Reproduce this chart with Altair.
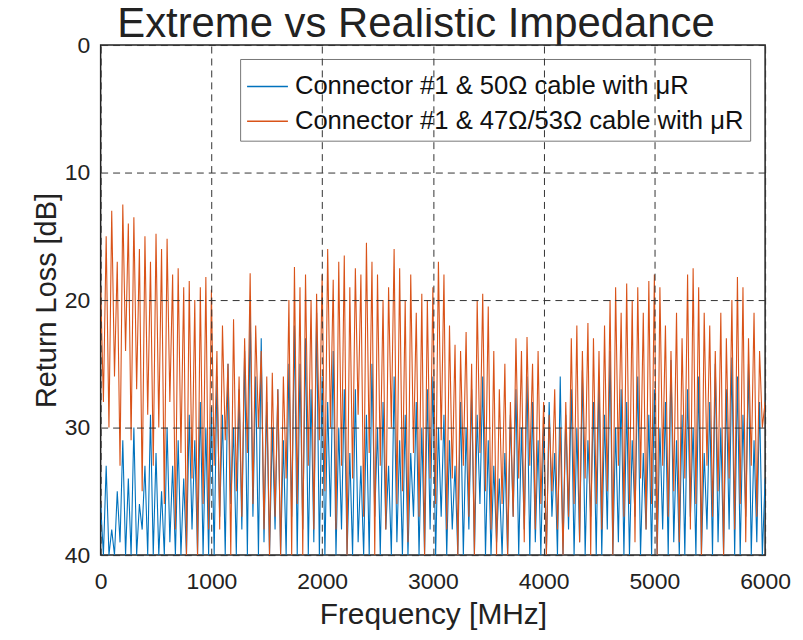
import altair as alt
import pandas as pd

series_names = ["Connector #1 & 50Ω cable with μR", "Connector #1 & 47Ω/53Ω cable with μR"]
series_colors = ["#0072BD", "#D95319"]

# frequency grid of the traces, MHz (0 ... 6000 every 25 MHz)
freq_mhz = list(range(0, 6001, 25))

# return loss [dB], 10 values per 250 MHz
orange_rl = [
    19, 28, 15, 30, 13, 26, 17, 33, 12.5, 24,
    14, 31, 13.5, 27, 16, 35, 15, 29, 17, 33,
    14.8, 30, 16, 36, 15.2, 28, 18, 38, 17.5, 32,
    19, 40, 18.5, 34, 20, 40, 19, 36, 18.2, 38,
    19.2, 33, 24, 38, 22, 31, 25, 40, 21.5, 35,
    26, 37, 23, 32, 17.9, 36, 22, 30, 24, 38,
    26, 40, 25.7, 37, 27, 40, 26, 34, 20, 40,
    17.4, 36, 19, 40, 18, 33, 20, 38, 19.5, 31,
    18, 35, 16, 30, 18.4, 38, 17, 33, 16.5, 40,
    19, 34, 17.5, 29, 18, 37, 15.5, 32, 17, 40,
    18, 33, 20, 38, 19, 30, 16, 36, 17.5, 35,
    20, 39, 18, 32, 21, 37, 19.5, 40, 20, 34,
    19, 36, 17, 31, 18, 38, 22, 34, 23.5, 40,
    24, 33, 22.5, 37, 25, 40, 20, 32, 19.5, 35,
    20.5, 38, 24, 40, 27, 36, 25, 40, 28, 37,
    23, 34, 24, 39, 22.9, 33, 25, 38, 24, 36,
    28, 40, 29, 35, 27, 38, 30, 40, 28, 37,
    23, 36, 22, 39, 24, 34, 21.8, 40, 23, 36,
    24, 38, 22, 35, 20, 40, 19, 33, 21, 37,
    18.7, 36, 20, 39, 19, 34, 21, 38, 18.5, 36,
    18, 40, 19, 33, 22, 37, 24, 35, 21, 39,
    23, 34, 18, 38, 17.5, 36, 19, 40, 21, 33,
    22, 37, 24, 35, 21, 40, 23, 34, 20, 38,
    18.2, 36, 19, 39, 23, 33, 21, 37, 24, 30,
    28,
]

blue_rl = [
    36, 40, 33, 40, 38, 40, 35, 39, 31, 40,
    34, 40, 30, 40, 36, 38, 33, 40, 29, 40,
    32, 40, 35, 40, 30, 39, 33, 40, 31, 40,
    34, 40, 29, 38, 31, 40, 28, 40, 30, 40,
    28.4, 40, 26, 37, 29, 40, 25, 36, 30, 40,
    27, 38, 24, 40, 20.5, 37, 26, 40, 23, 39,
    28, 40, 30, 38, 27, 40, 31, 40, 25, 37,
    22, 40, 25, 38, 23, 40, 27, 39, 21, 40,
    26, 40, 28, 37, 24, 40, 30, 38, 27, 40,
    32, 40, 27, 39, 33, 40, 29, 40, 25, 37,
    30, 40, 28, 38, 33, 40, 26, 39, 31, 40,
    29, 40, 32, 37, 28, 40, 30, 40, 27, 38,
    26, 40, 30, 37, 29, 40, 31, 38, 33, 40,
    28, 40, 30, 38, 27, 40, 29, 36, 26, 40,
    31, 40, 33, 39, 34, 40, 32, 40, 29, 37,
    27, 40, 30, 38, 26, 40, 28, 39, 31, 40,
    30, 40, 28, 37, 32, 40, 26, 40, 29, 38,
    27, 40, 30, 39, 25.5, 40, 31, 37, 28, 40,
    26, 40, 29, 38, 24, 40, 30, 39, 27, 40,
    28, 40, 31, 37, 26, 40, 32, 38, 29, 40,
    27, 40, 30, 38, 28, 40, 24.7, 39, 31, 40,
    29, 40, 27, 37, 30, 40, 26, 40, 32, 38,
    28, 40, 25, 39, 30, 40, 27, 38, 24.5, 40,
    26, 40, 29, 37, 25, 40, 31, 39, 28, 40,
    34,
]

x_ticks = [0, 1000, 2000, 3000, 4000, 5000, 6000]
y_ticks = [0, 10, 20, 30, 40]

df = pd.DataFrame({
    "freq": freq_mhz + freq_mhz,
    "rl": blue_rl + orange_rl,
    "series": [series_names[0]] * len(freq_mhz) + [series_names[1]] * len(freq_mhz),
})

FONT = "Liberation Sans"

x = alt.X(
    "freq:Q",
    scale=alt.Scale(domain=[0, 6000], nice=False, zero=False),
    axis=alt.Axis(
        values=x_ticks, format="d", title="Frequency [MHz]",
        grid=True, gridDash=[7, 5], gridColor="#333333", gridWidth=1, gridOpacity=1,
        tickSize=0, domain=False, labelPadding=16, titlePadding=6, labelFlush=False,
        labelFontSize=23, titleFontSize=30, labelFont=FONT, titleFont=FONT,
        titleFontWeight="normal", labelColor="#222222", titleColor="#222222",
        zindex=1,
    ),
)
y = alt.Y(
    "rl:Q",
    scale=alt.Scale(domain=[0, 40], reverse=True, nice=False, zero=False),
    axis=alt.Axis(
        values=y_ticks, title="Return Loss [dB]",
        grid=True, gridDash=[7, 5], gridColor="#333333", gridWidth=1, gridOpacity=1,
        tickSize=0, domain=False, labelPadding=11, titlePadding=3, labelFlush=False,
        labelFontSize=23, titleFontSize=29, labelFont=FONT, titleFont=FONT,
        titleFontWeight="normal", labelColor="#222222", titleColor="#222222",
        zindex=1,
    ),
)

chart = alt.Chart(df).mark_line(clip=True, strokeWidth=1.1).encode(
    x=x,
    y=y,
    color=alt.Color(
        "series:N",
        scale=alt.Scale(domain=series_names, range=series_colors),
        legend=alt.Legend(
            title=None, orient="none", legendX=140, legendY=14,
            symbolType="stroke", symbolSize=1681, symbolStrokeWidth=1.5,
            labelFontSize=25.7, labelFont=FONT, labelColor="#111111", labelLimit=0,
            labelOffset=6, padding=6, rowPadding=0,
            fillColor="white", strokeColor="#777777",
        ),
    ),
).properties(
    width=667,
    height=512,
    title=alt.TitleParams(
        "Extreme vs Realistic Impedance", fontSize=42, font=FONT,
        fontWeight="normal", color="#222222", anchor="middle", dx=-17, offset=-12,
    ),
    autosize=alt.AutoSizeParams(type="none"),
    padding={"left": 93, "top": 36, "right": 30, "bottom": 76},
).configure_view(
    stroke="#222222", strokeWidth=1.5,
)

chart.save("out.html", embed_options={"renderer": "svg", "actions": False})
